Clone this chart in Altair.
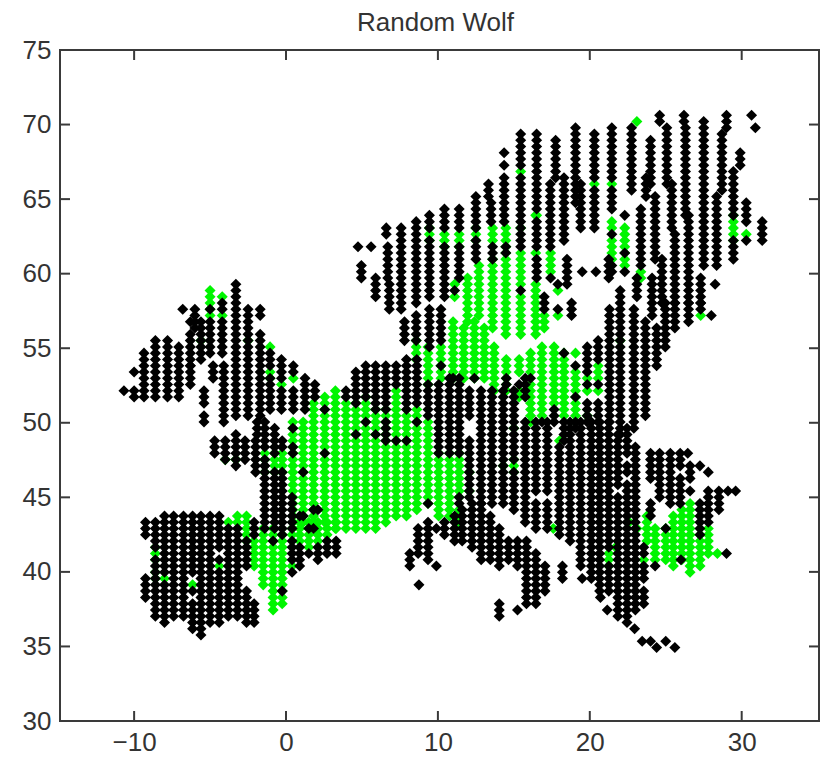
import altair as alt
import pandas as pd

alt.data_transformers.disable_max_rows()

ROW_STEP = 0.42
ROW_BASE = 0.07

# (longitude, lowest latitude, highest latitude) of each run of grid cells
black_iberia = [
 (-9.25,42.6,43.3),(-9.25,38.4,39.6),(-8.6,37.2,39.4),(-8.6,40.0,40.9),(-8.6,41.5,43.3),
 (-8.0,36.7,39.2),(-8.0,39.8,43.9),(-7.4,37.2,43.9),(-6.75,37.2,43.9),
 (-6.15,36.2,38.0),(-6.15,38.5,38.8),(-6.15,39.8,40.8),(-6.15,41.2,43.9),(-5.6,35.9,43.9),
 (-5.0,36.5,39.3),(-5.0,39.7,40.9),(-5.0,41.3,41.8),(-5.0,42.2,43.9),
 (-4.4,36.5,40.1),(-4.4,40.7,41.0),(-4.4,41.6,43.9),(-3.8,36.9,37.6),(-3.8,38.0,43.1),
 (-3.2,36.9,38.3),(-3.2,38.8,43.1),(-2.6,36.8,38.7),(-2.6,40.4,42.2),(-2.1,36.8,37.9),(-2.1,42.4,43.3),
 (-1.4,43.0,47.0),(-1.4,47.2,47.6),(-1.4,48.3,50.2),(-0.75,43.0,46.6),(-0.75,47.9,49.7),
 (-0.25,42.5,46.5),(-0.25,48.2,48.8),(-0.85,41.9,41.9),(-0.25,38.6,38.6),
 (0.4,41.0,42.2),(0.4,43.0,45.0),(0.4,40.1,40.1),(0.9,40.5,41.6),(0.9,43.6,43.6),
 (1.5,41.3,41.3),(1.5,42.7,42.7),(2.1,40.7,41.7),(2.1,44.1,44.1),(2.7,41.2,42.0),(3.3,41.4,42.1),
]
green_iberia = [
 (-8.6,39.6,39.9),(-8.6,40.9,41.5),(-8.0,39.5,39.6),(-6.15,39.0,39.3),(-4.4,40.3,40.5),
 (-3.8,43.3,43.3),(-3.2,43.3,43.9),(-2.6,42.2,43.9),(-2.1,40.3,42.1),(-1.5,39.3,42.9),
 (-0.85,37.5,42.9),(-0.25,37.8,42.4),(0.4,40.5,40.5),(0.4,42.3,43.0),(0.9,41.9,43.4),
 (1.5,41.7,43.5),(2.1,41.9,43.5),(2.7,42.3,43.5),(3.3,43.0,43.5),
 (-1.4,46.7,46.8),(-1.4,47.7,47.8),(-0.75,46.8,47.8),(-0.25,46.6,48.1),
]
black_britain = [
 (-10.67,52.05,52.05),(-10.0,51.8,52.0),(-10.0,53.4,53.6),(-9.35,51.8,54.5),(-8.6,51.6,55.5),
 (-7.8,51.6,55.5),(-7.06,51.9,54.9),(-6.3,54.0,55.8),(-6.3,52.4,53.7),(-6.8,57.5,57.5),
 (-6.0,56.4,57.7),(-6.3,56.6,56.8),(-5.6,54.4,54.9),(-5.6,55.7,56.9),(-5.0,57.6,57.6),
 (-5.0,54.6,56.7),(-4.8,52.8,53.7),(-5.4,51.3,52.3),(-5.4,50.0,50.6),(-4.2,57.5,58.2),
 (-4.2,54.6,56.7),(-4.1,50.2,53.7),(-3.3,54.1,59.2),(-3.3,50.3,53.7),(-2.5,55.8,57.7),
 (-2.5,50.3,55.5),(-1.7,57.0,57.6),(-1.7,50.6,56.0),(-1.05,53.8,54.5),(-1.05,50.9,52.8),
 (-0.3,53.0,54.4),(-0.3,50.7,52.3),(0.48,53.4,54.0),(0.48,51.0,52.2),(1.25,50.9,53.1),(1.9,51.9,52.7),
 (-4.7,48.0,48.8),(-4.0,47.7,48.8),(-3.3,47.9,49.2),(-3.3,47.0,47.5),(-2.7,47.5,48.8),
 (-2.0,46.6,48.8),(-1.9,49.4,50.2),
]
green_britain = [
 (-5.6,55.3,55.4),(-5.0,57.8,58.7),(-5.0,57.1,57.1),(-4.2,58.5,58.5),(-4.2,57.1,57.1),
 (-2.5,55.7,55.7),(-1.05,54.9,54.9),(-1.05,53.0,53.5),(-0.3,52.7,52.7),(0.48,52.9,52.9),
 (-4.0,47.6,47.6),(-3.3,47.7,47.7),
]
green_central = [
 (0.45,43.5,50.1),(1.13,43.5,50.2),(1.81,43.5,51.1),(2.55,43.5,51.6),(3.25,43.1,52.0),
 (3.95,43.0,51.5),(4.6,42.9,51.2),(5.25,42.7,51.6),(5.9,42.7,50.7),(6.57,43.3,50.7),
 (7.25,43.6,52.3),(7.93,43.6,50.6),(8.61,44.2,51.0),(9.35,44.5,50.0),(10.05,43.9,47.8),
 (10.76,43.7,47.8),(11.4,45.2,47.8),(11.4,43.5,44.0),(12.07,46.8,46.8),(12.07,45.6,45.6),
 (14.3,47.2,47.2),(15.0,46.8,47.6),(15.0,49.5,49.5),(18.0,48.7,48.7),
]
black_central = [
 (0.45,49.5,49.5),(0.45,47.9,48.5),(1.13,46.8,46.8),(1.13,43.6,43.6),(1.81,44.0,44.0),(1.81,42.7,42.7),
 (2.55,50.9,50.9),(2.55,48.1,48.1),(3.95,51.7,52.1),(4.6,49.4,49.4),(4.6,51.5,53.2),(5.25,50.0,50.0),
 (5.25,51.7,53.7),(5.9,49.4,49.4),(5.9,50.9,53.7),(6.57,49.0,50.1),(6.57,50.9,53.7),(7.25,48.7,48.7),
 (7.25,52.6,53.7),(7.93,48.7,48.7),(7.93,50.8,54.1),(8.61,50.0,50.0),(8.61,51.2,54.3),(9.35,44.5,44.5),
 (9.35,50.4,52.6),(10.05,47.9,52.4),(10.76,47.9,52.8),(11.4,44.4,45.1),(11.4,47.9,52.8),
 (12.07,45.0,45.4),(12.07,45.8,46.6),(12.07,47.0,48.8),(12.07,50.3,52.0),(12.84,44.8,52.0),(13.56,44.8,52.0),
 (14.3,44.5,47.0),(14.3,47.4,52.0),(15.0,44.0,46.7),(15.0,47.7,49.3),(15.0,49.7,52.0),(15.75,43.5,50.0),
 (15.75,51.8,52.8),(16.45,42.85,44.8),(16.45,45.3,50.0),(17.2,43.1,44.8),(17.2,45.3,50.0),(18.0,42.5,48.5),
 (18.7,42.0,50.0),(19.4,40.4,49.9),(20.1,39.4,50.0),(20.65,38.7,50.0),(21.25,38.5,40.2),(21.25,41.5,50.0),
 (21.85,36.9,45.2),(21.85,46.0,49.4),
]
black_italy = [
 (9.35,40.7,43.4),(8.7,41.4,42.7),(8.15,40.2,41.1),(9.9,40.4,40.4),(9.9,42.7,42.7),(8.75,39.05,39.05),
 (14.04,37.0,37.8),(15.24,37.6,37.6),(10.43,42.3,43.4),(11.1,42.0,43.6),(11.6,42.0,44.1),(12.25,41.5,44.5),
 (12.85,41.0,44.4),(13.45,41.0,43.6),(14.04,40.6,42.85),(14.65,41.0,42.2),(15.24,40.2,42.1),(15.83,37.8,42.0),
 (16.45,37.8,41.05),(17.05,38.8,40.6),(18.2,39.7,40.6),
]
black_balkans = [
 (22.45,49.0,49.45),(22.45,47.9,48.5),(22.45,46.8,47.0),(22.45,36.6,46.0),
 (23.0,37.6,38.0),(23.0,38.3,39.8),(23.0,40.2,44.3),(23.0,44.7,46.2),(23.0,46.5,48.2),
 (23.55,37.8,38.8),(23.55,39.7,40.5),(23.55,41.2,41.7),(24.0,43.9,44.75),(24.0,46.1,47.9),(24.6,45.0,47.9),
 (25.3,44.4,46.6),(25.3,47.0,48.0),(25.95,47.0,48.0),(25.95,44.4,46.4),(26.45,48.15,48.15),(26.6,46.2,47.1),
 (26.6,45.4,45.4),(27.25,47.2,47.2),(27.25,42.4,44.6),(27.8,46.75,46.75),(27.8,43.4,45.5),(28.5,44.0,45.5),
 (29.1,45.3,45.3),(29.6,45.3,45.3),(25.0,42.7,42.7),(26.0,40.85,40.85),(29.0,41.3,41.3),(24.3,40.4,40.4),
 (19.5,39.5,39.5),(20.7,38.15,38.15),(21.15,37.6,37.6),(22.95,36.3,36.3),(23.45,35.4,35.4),(24.0,35.5,35.5),
 (24.4,35.0,35.0),(25.0,35.2,35.5),(25.6,35.1,35.1),
]
green_balkans = [
 (21.25,40.3,41.4),(21.7,41.85,41.85),(23.55,40.9,40.9),(17.6,43.1,43.1),(22.6,43.2,43.5),(23.1,42.7,42.9),
 (23.76,42.2,43.6),(24.3,41.0,43.0),(25.0,41.0,43.0),(25.5,40.5,43.6),(26.06,41.0,44.1),(26.6,40.05,44.6),
 (27.26,40.6,42.3),(27.8,41.4,42.7),(28.4,41.3,41.3),
]
black_poland = [
 (14.5,52.6,53.0),(15.35,52.6,52.6),(16.1,53.0,53.0),(18.3,54.8,54.8),(19.06,53.9,53.9),(19.06,51.7,51.7),
 (19.06,49.7,50.0),(19.83,53.2,55.0),(19.83,52.5,52.5),(19.83,50.6,51.4),(19.83,49.9,50.0),(20.55,54.1,55.5),
 (20.55,52.5,52.5),(20.55,50.0,51.4),(21.3,50.0,57.7),(22.0,49.4,55.4),(22.0,56.0,59.0),(22.9,49.7,57.7),
 (23.66,50.3,56.9),(24.4,53.7,56.4),(23.1,58.4,59.5),(24.1,57.0,59.5),(18.3,48.8,50.1),(17.65,50.1,50.8),
 (16.85,49.9,50.2),(7.8,55.5,56.8),(8.57,55.7,57.3),(9.44,55.0,57.8),(10.2,55.7,57.8),(10.2,53.9,53.9),
 (11.0,52.9,52.9),(12.4,53.1,53.1),(24.97,55.0,58.2),(25.6,56.3,58.2),(26.5,56.9,58.2),(27.3,57.7,58.2),(28.0,57.2,57.2),
]
green_poland = [
 (14.5,53.1,54.1),(14.5,52.0,52.5),(15.35,53.5,54.2),(15.35,51.9,52.0),(16.1,53.3,54.6),(16.1,50.0,52.6),
 (16.85,50.3,55.0),(17.65,51.2,55.0),(18.3,50.3,54.5),(19.06,54.5,54.5),(19.06,51.8,53.4),(19.06,49.9,51.2),
 (19.83,52.8,52.8),(19.83,52.0,52.0),(19.83,50.3,50.3),(20.55,53.0,53.9),(20.55,52.0,52.0),(22.0,55.7,55.7),
 (13.7,52.3,55.0),(13.05,52.8,56.4),(12.4,52.8,56.6),(11.7,53.0,56.4),(11.0,52.8,56.8),(10.2,53.0,55.0),
 (9.35,52.6,54.9),(8.57,54.4,55.3),(27.3,57.4,57.4),
]
black_north = [
 (4.74,62.0,62.0),(5.6,62.0,62.0),(4.96,59.7,60.7),(5.9,58.6,59.6),(6.6,62.5,63.2),(6.7,59.7,61.7),(6.8,57.8,59.1),
 (7.58,57.7,63.2),(8.57,58.2,63.6),(9.44,63.2,64.1),(9.44,58.6,62.2),(10.43,63.1,64.4),(10.43,58.6,61.9),
 (11.4,63.1,64.5),(11.4,59.7,61.7),(11.1,59.0,59.0),(12.5,63.2,65.2),(12.5,60.8,62.2),(13.5,63.3,64.9),
 (13.6,60.96,61.85),(13.33,65.3,66.2),(14.47,61.4,61.7),(14.36,68.3,68.3),(14.36,67.4,67.4),(14.36,63.4,66.55),
 (15.45,67.3,69.35),(15.45,63.5,66.5),(15.45,61.9,62.9),(15.45,58.8,58.8),(16.5,64.2,69.35),(16.5,62.0,63.5),
 (16.5,59.7,60.8),(17.75,66.6,68.9),(17.4,62.0,65.8),(17.42,59.5,59.8),(17.0,57.5,58.6),(17.9,59.4,59.4),
 (17.9,57.5,57.5),(18.3,62.4,66.5),(18.5,59.2,60.8),(18.8,57.3,58.2),(19.5,60.2,60.2),(20.4,60.2,60.2),
 (21.25,59.7,60.8),(19.06,64.9,69.8),(19.4,63.2,66.2),(20.3,66.5,69.3),(20.3,63.2,65.6),(21.45,66.5,69.8),
 (21.45,64.2,65.6),(21.45,62.5,62.5),(21.45,60.0,60.6),(22.3,63.9,63.9),(22.3,61.5,61.5),(22.3,60.3,60.3),
 (22.75,65.5,69.8),(23.36,60.4,64.3),(23.7,65.3,66.6),(24.0,66.2,68.9),(24.6,70.0,70.7),(25.07,65.8,69.7),
 (24.3,61.1,65.1),(24.75,58.2,60.9),(26.2,70.0,70.7),(26.3,64.0,69.6),(25.4,62.9,65.8),(25.6,58.2,62.6),
 (26.5,58.2,63.75),(27.5,60.6,70.2),(27.3,58.2,59.5),(29.0,69.6,70.7),(28.7,65.5,69.3),(28.35,60.5,65.3),
 (28.25,59.4,59.4),(30.65,70.6,70.6),(30.9,69.6,69.6),(29.9,67.1,68.0),(29.45,64.0,66.7),(29.45,61.1,62.2),
 (30.3,63.3,64.9),(30.3,62.1,62.1),(31.35,62.4,63.5),
]
green_north = [
 (9.44,62.4,63.1),(10.43,62.0,62.8),(11.4,61.9,62.8),(11.1,59.4,59.4),(11.1,58.4,58.4),(12.5,62.4,62.9),
 (11.95,56.6,59.6),(12.7,57.0,60.7),(13.6,62.2,63.1),(13.6,56.4,60.8),(14.47,62.0,63.1),(14.47,55.9,61.3),
 (15.45,63.1,63.1),(15.45,59.3,61.6),(15.45,55.9,58.5),(15.45,66.9,66.9),(16.44,64.0,64.0),(16.44,61.6,61.6),
 (16.44,55.9,59.2),(16.5,63.9,63.9),(17.42,60.0,61.6),(17.0,56.4,57.0),(17.9,58.9,58.9),(17.9,57.0,57.0),
 (20.3,66.0,66.0),(21.45,66.0,66.0),(21.45,63.0,63.5),(21.45,61.1,62.1),(22.3,60.6,63.1),(23.1,70.1,70.1),
 (23.36,59.7,60.2),(29.45,62.4,63.75),(30.3,62.75,62.75),
]

title_text = "Random Wolf"
x_ticks = [-10, 0, 10, 20, 30]
y_ticks = [30, 35, 40, 45, 50, 55, 60, 65, 70, 75]
X_DOMAIN = [-14.88, 35.09]
Y_DOMAIN = [30, 75]
W, H = 759, 671
TICK = 10
SPINE = "#3a3a3a"
FONT = "Liberation Sans"


def expand(runs, label):
    out = []
    for lon, lo, hi in runs:
        a = round((lo - ROW_BASE) / ROW_STEP)
        b = round((hi - ROW_BASE) / ROW_STEP)
        for k in range(a, b + 1):
            out.append({"lon": lon, "lat": round(ROW_BASE + k * ROW_STEP, 3), "kind": label})
    return out


green = pd.DataFrame(expand(green_iberia + green_britain + green_central + green_balkans + green_poland + green_north, "g"))
black = pd.DataFrame(expand(black_iberia + black_britain + black_central + black_italy + black_balkans + black_poland + black_north, "k"))

x = alt.X("lon:Q", scale=alt.Scale(domain=X_DOMAIN, nice=False, zero=False),
          axis=alt.Axis(values=x_ticks, title=None, grid=False, ticks=False, domain=False,
                        labelFont=FONT, labelFontSize=26, labelColor="#333333", labelPadding=8, format="d", labelFlush=False))
y = alt.Y("lat:Q", scale=alt.Scale(domain=Y_DOMAIN, nice=False, zero=False),
          axis=alt.Axis(values=y_ticks, title=None, grid=False, ticks=False, domain=False,
                        labelFont=FONT, labelFontSize=26, labelColor="#333333", labelPadding=9, format="d", labelFlush=False))

pts_g = alt.Chart(green).mark_point(shape="diamond", filled=True, size=122, color="#00f500", opacity=1, strokeWidth=0).encode(x=x, y=y)
pts_k = alt.Chart(black).mark_point(shape="diamond", filled=True, size=122, color="#000000", opacity=1, strokeWidth=0).encode(x=x, y=y)

xt = pd.DataFrame({"lon": x_ticks})
yt = pd.DataFrame({"lat": y_ticks[1:-1]})
tick_style = dict(color=SPINE, strokeWidth=2)
ticks = [
    alt.Chart(xt).mark_rule(**tick_style).encode(x=alt.X("lon:Q"), y=alt.value(H), y2=alt.value(H - TICK)),
    alt.Chart(xt).mark_rule(**tick_style).encode(x=alt.X("lon:Q"), y=alt.value(0), y2=alt.value(TICK)),
    alt.Chart(yt).mark_rule(**tick_style).encode(y=alt.Y("lat:Q"), x=alt.value(0), x2=alt.value(TICK)),
    alt.Chart(yt).mark_rule(**tick_style).encode(y=alt.Y("lat:Q"), x=alt.value(W), x2=alt.value(W - TICK)),
]

chart = alt.layer(pts_g, pts_k, *ticks).properties(
    width=W, height=H,
    title=alt.TitleParams(title_text, font=FONT, fontSize=26, fontWeight="normal", color="#333333", anchor="middle", offset=0, dx=-4, dy=-1),
    autosize=alt.AutoSizeParams(type="none"),
    padding={"left": 52, "top": 42, "right": 1, "bottom": 35},
).configure_view(stroke=SPINE, strokeWidth=2)

chart.save("out.html", embed_options={"renderer": "svg", "actions": False})
